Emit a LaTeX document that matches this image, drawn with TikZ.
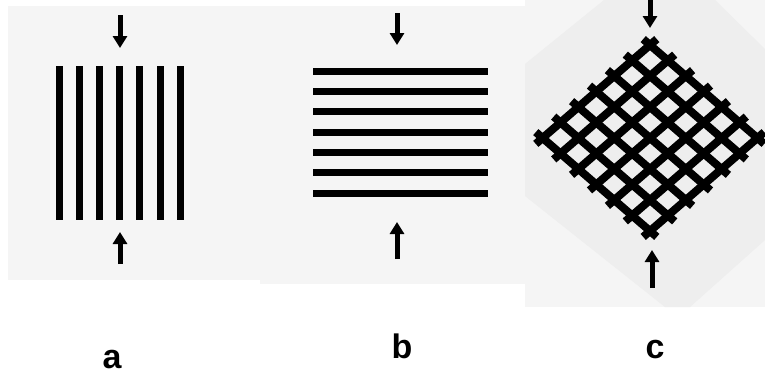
\documentclass[tikz,border=0pt]{standalone}
\usepackage{fontspec}
\setmainfont{Liberation Sans}
\usetikzlibrary{arrows.meta}
\definecolor{panelbg}{HTML}{F5F5F5}
\definecolor{cbgl}{HTML}{F5F5F5}
\definecolor{cbgd}{HTML}{EEEEEE}
\begin{document}
\begin{tikzpicture}[x=1pt,y=-1pt,
  bar/.style={line width=7pt,black},
  mesh/.style={line width=8pt,black},
  force/.style={line width=5pt,black,-{Triangle[width=14pt,length=12pt]}},
  lab/.style={font=\fontsize{34}{34}\selectfont\bfseries,anchor=base,inner sep=0pt}]
\useasboundingbox (0,0) rectangle (765,376);
\fill[white] (0,0) rectangle (765,376);
% panel backgrounds
\fill[panelbg] (8,6) rectangle (260,280);
\fill[panelbg] (260,6) rectangle (525,284);
\fill[cbgl] (525,0) rectangle (765,307);
\fill[cbgd] (525,64) -- (604,0) -- (715,0) -- (765,49) -- (765,240) -- (690,307) -- (665,307) -- (525,196) -- cycle;
% panel a: vertical bars
\foreach \i in {0,...,6} {
  \draw[bar] ({59+20.2*\i},66) -- ({59+20.2*\i},220);
}
\coordinate (aT1) at (120,15);
\coordinate (aT2) at (120,48);
\coordinate (aB1) at (120,264);
\coordinate (aB2) at (120,232);
\draw[force] (aT1) -- (aT2);
\draw[force] (aB1) -- (aB2);
% panel b: horizontal bars
\foreach \i in {0,...,6} {
  \draw[bar] (313,{71+20.35*\i}) -- (488,{71+20.35*\i});
}
\coordinate (bT1) at (397,13);
\coordinate (bT2) at (397,45);
\coordinate (bB1) at (397,259);
\coordinate (bB2) at (397,222);
\draw[force] (bT1) -- (bT2);
\draw[force] (bB1) -- (bB2);
% panel c: diagonal mesh
\foreach \i in {0,...,6} {
  \draw[mesh] ({650+17.9*\i-17.9*(-0.38)},{45+15.5*\i+15.5*(-0.38)}) -- ({650+17.9*\i-17.9*6.38},{45+15.5*\i+15.5*6.38});
  \draw[mesh] ({650+17.9*(-0.38)-17.9*\i},{45+15.5*(-0.38)+15.5*\i}) -- ({650+17.9*6.38-17.9*\i},{45+15.5*6.38+15.5*\i});
}
\coordinate (cT1) at (650,-2);
\coordinate (cT2) at (650,28);
\coordinate (cB1) at (652,288);
\coordinate (cB2) at (652,250);
\draw[force] (cT1) -- (cT2);
\draw[force] (cB1) -- (cB2);
% labels
\node[lab] (la) at (112,368) {a};
\node[lab] (lb) at (402,358) {b};
\node[lab] (lc) at (655,358) {c};
\end{tikzpicture}
\end{document}
